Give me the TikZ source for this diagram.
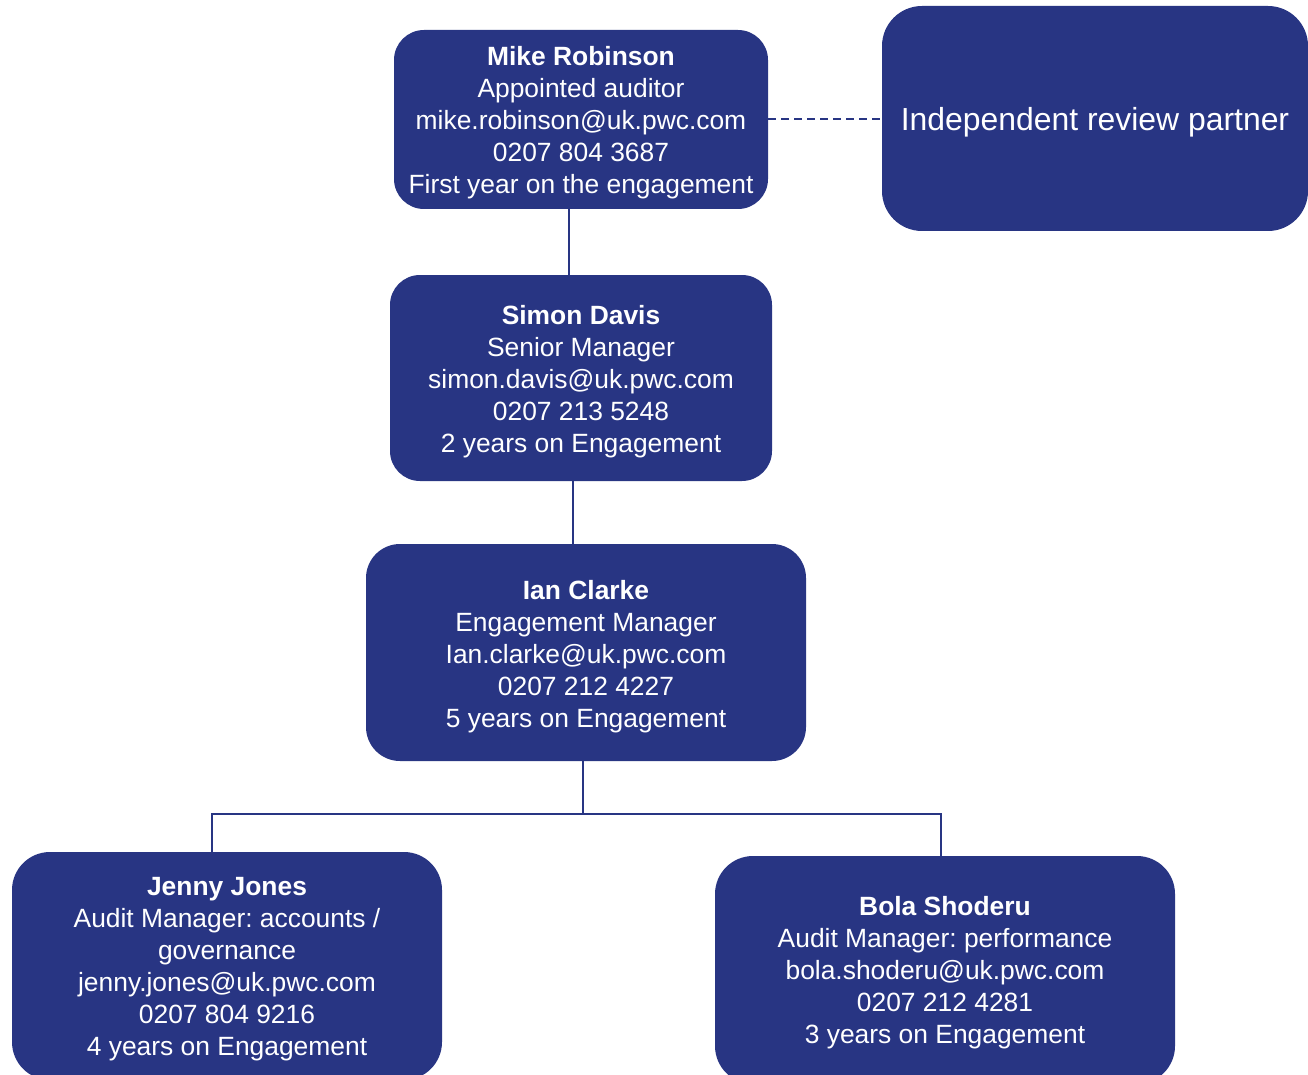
\documentclass[tikz,border=0pt]{standalone}
\usepackage{fontspec}
\setmainfont{Liberation Sans}
\frenchspacing
\definecolor{pwcblue}{RGB}{40,53,131}
\begin{document}
\begin{tikzpicture}[x=1pt,y=-1pt,
  card/.style={fill=pwcblue, draw=none, rounded corners=30pt, inner sep=0pt},
  cardtext/.style={text=white, align=center, inner sep=0pt,
    font=\fontsize{26.4}{32}\selectfont},
  conn/.style={draw=pwcblue, line width=1.8pt},
  link/.style={draw=pwcblue, line width=2pt, dash pattern=on 8pt off 5pt}]
\useasboundingbox (0,0) rectangle (1308,1075);
\clip (0,0) rectangle (1308,1075);

\node[card, minimum width=374pt, minimum height=179pt] (mike) at (581,119.5) {};
\node[cardtext] (mike-t) at ([yshift=-3.5pt]mike.center)
  {\textbf{Mike Robinson}\\Appointed auditor\\mike.robinson@uk.pwc.com\\0207 804 3687\\First year on the engagement};
\node[card, minimum width=426pt, minimum height=225pt, rounded corners=40pt] (irp) at (1095,118.5) {};
\node[cardtext, font=\fontsize{31.9}{38}\selectfont] (irp-t) at ([yshift=-4pt]irp.center)
  {Independent review partner};
\node[card, minimum width=382pt, minimum height=206pt] (simon) at (581,378) {};
\node[cardtext] (simon-t) at ([yshift=-4pt]simon.center)
  {\textbf{Simon Davis}\\Senior Manager\\simon.davis@uk.pwc.com\\0207 213 5248\\2 years on Engagement};
\node[card, minimum width=440pt, minimum height=217pt, rounded corners=34pt] (ian) at (586,652.5) {};
\node[cardtext] (ian-t) at ([yshift=-4pt]ian.center)
  {\textbf{Ian Clarke}\\Engagement Manager\\Ian.clarke@uk.pwc.com\\0207 212 4227\\5 years on Engagement};
\node[card, minimum width=430pt, minimum height=228pt, rounded corners=38pt] (jenny) at (227,966) {};
\node[cardtext] (jenny-t) at ([yshift=-3pt]jenny.center)
  {\textbf{Jenny Jones}\\Audit Manager: accounts /\\governance\\jenny.jones@uk.pwc.com\\0207 804 9216\\4 years on Engagement};
\node[card, minimum width=460pt, minimum height=228pt, rounded corners=38pt] (bola) at (945,970) {};
\node[cardtext] (bola-t) at ([yshift=-3pt]bola.center)
  {\textbf{Bola Shoderu}\\Audit Manager: performance\\bola.shoderu@uk.pwc.com\\0207 212 4281\\3 years on Engagement};

\coordinate (bus) at (583,814);

\draw[link] (mike.east) -- (mike.east -| irp.west);
\draw[conn] ([xshift=-12pt]mike.south) -- ([xshift=-12pt]mike.south |- simon.north);
\draw[conn] ([xshift=-8pt]simon.south) -- ([xshift=-13pt]ian.north);
\draw[conn] ([xshift=-3pt]ian.south) -- (bus);
\draw[conn] ([xshift=-15pt]jenny.north) |- (bus) -| ([xshift=-4pt]bola.north);
\end{tikzpicture}
\end{document}
